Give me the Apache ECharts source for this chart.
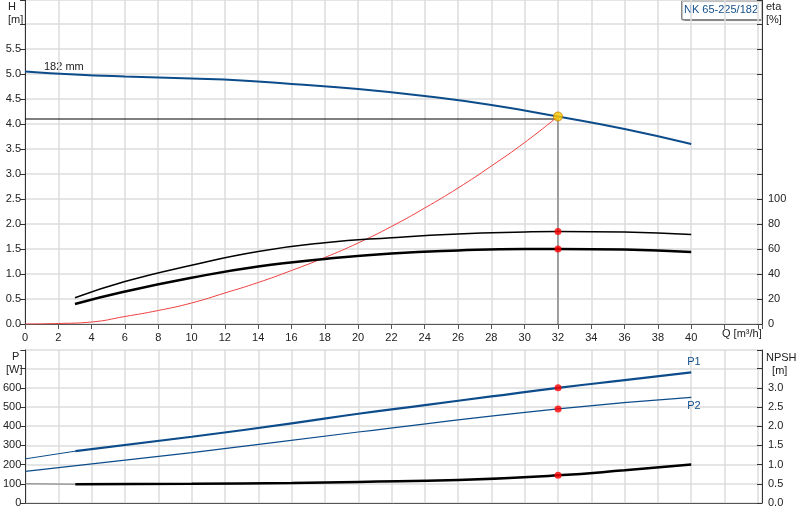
<!DOCTYPE html>
<html><head><meta charset="utf-8">
<script src="https://cdn.jsdelivr.net/npm/echarts@6/dist/echarts.min.js"></script>
<style>html,body{margin:0;padding:0;background:#fff}#c{width:800px;height:520px}</style>
</head><body><div id="c"></div>
<script>
const hQ   = [0,3,6,10,13,16,20,24,28,32,36,40];
const hVal = [5.05,4.99,4.95,4.91,4.87,4.8,4.7,4.56,4.38,4.15,3.9,3.6];
const sysQ = [0,2,4,6,8,10,12,14,16,18,20,22,24,26,28,30,32];
const sysH = [0,0.01,0.04,0.15,0.27,0.42,0.62,0.83,1.07,1.33,1.62,1.95,2.32,2.72,3.16,3.63,4.15];
const effQ = [3,6,10,14,18,22,26,30,32,36,40];
const etaUpper = [21,34,47,58,65,69,72,73.6,74,73.6,71.6];
const etaLower = [16,26,37,46,52,56.4,58.8,60,60,59.6,57.6];
const pQ  = [3,10,16,20,24,28,32,36,40];
const p1  = [270,345,415,465,510,555,600,640,680];
const p1Ext = [[0,230],[3,270]];
const p2Q = [0,10,20,32,40];
const p2  = [165,262,370,490,550];
const npQ = [3,10,16,20,26,32,36,40];
const npsh = [0.49,0.5,0.52,0.55,0.6,0.72,0.85,1.0];
const npExt = [[0,0.5],[3,0.49]];
const dutyQ = 32, dutyH = 4.1;

const zip=(a,b)=>a.map((x,i)=>[x,b[i]]);
const blue='#0d4c8b';
const gridLine={show:true,lineStyle:{color:'#dcdcdc',width:1.5}};
const font={fontFamily:'Arial, Liberation Sans',fontSize:11,color:'#222'};
const dot={color:'#ff0000',borderWidth:0};
const chart=echarts.init(document.getElementById('c'));
chart.setOption({
 animation:false,
 grid:[{left:25,right:38,top:0,height:324},{left:25,right:38,top:350,height:153}],
 xAxis:[
  {gridIndex:0,type:'value',min:0,max:44.25,interval:2,splitLine:gridLine,
   axisLine:{lineStyle:{color:'#555'}},axisTick:{show:true,lineStyle:{color:'#555'}},
   axisLabel:{...font,formatter:v=>v<=40?v:''}},
  {gridIndex:1,type:'value',min:0,max:44.25,interval:2,splitLine:gridLine,
   axisLine:{lineStyle:{color:'#555'}},axisTick:{show:false},axisLabel:{show:false}}
 ],
 yAxis:[
  {gridIndex:0,type:'value',min:0,max:6.48,interval:0.5,splitLine:gridLine,
   axisLine:{show:true,lineStyle:{color:'#333'}},axisTick:{show:true},
   axisLabel:{...font,margin:4,formatter:v=>v<=5.5?v.toFixed(1):''}},
  {gridIndex:0,type:'value',position:'right',min:0,max:259.2,interval:20,splitLine:{show:false},
   axisLine:{show:true,lineStyle:{color:'#333'}},axisTick:{show:true,inside:true},
   axisLabel:{...font,margin:6,formatter:v=>v<=100?v:''}},
  {gridIndex:1,type:'value',min:0,max:797,interval:100,splitLine:gridLine,
   axisLine:{show:true,lineStyle:{color:'#333'}},axisTick:{show:true},
   axisLabel:{...font,margin:4,formatter:v=>v<=600?v:''}},
  {gridIndex:1,type:'value',position:'right',min:0,max:3.985,interval:0.5,splitLine:{show:false},
   axisLine:{show:true,lineStyle:{color:'#333'}},axisTick:{show:true,inside:true},
   axisLabel:{...font,margin:6,formatter:v=>v<=3.0?v.toFixed(1):''}}
 ],
 series:[
  {type:'line',xAxisIndex:0,yAxisIndex:0,data:zip(hQ,hVal),smooth:true,symbol:'none',lineStyle:{color:blue,width:2}},
  {type:'line',xAxisIndex:0,yAxisIndex:0,data:[[0,dutyH],[dutyQ,dutyH]],symbol:'none',lineStyle:{color:'#000',width:1}},
  {type:'line',xAxisIndex:0,yAxisIndex:0,data:[[dutyQ,0],[dutyQ,4.15]],symbol:'none',lineStyle:{color:'#888',width:1.5}},
  {type:'line',xAxisIndex:0,yAxisIndex:0,data:zip(sysQ,sysH),smooth:true,symbol:'none',lineStyle:{color:'#f04040',width:1}},
  {type:'line',xAxisIndex:0,yAxisIndex:1,data:zip(effQ,etaUpper),smooth:true,symbol:'none',lineStyle:{color:'#000',width:1.5}},
  {type:'line',xAxisIndex:0,yAxisIndex:1,data:zip(effQ,etaLower),smooth:true,symbol:'none',lineStyle:{color:'#000',width:2.5}},
  {type:'scatter',xAxisIndex:0,yAxisIndex:1,data:[[32,74],[32,60]],symbolSize:7,itemStyle:dot,z:5},
  {type:'scatter',xAxisIndex:0,yAxisIndex:0,data:[[32,4.15]],symbolSize:9,itemStyle:{color:'#ffcc00',borderColor:'#c08000',borderWidth:1},z:5},
  {type:'line',xAxisIndex:1,yAxisIndex:2,data:p1Ext,symbol:'none',lineStyle:{color:blue,width:1}},
  {type:'line',xAxisIndex:1,yAxisIndex:2,data:zip(pQ,p1),smooth:true,symbol:'none',lineStyle:{color:blue,width:2.2},
   endLabel:{show:true,formatter:'P1',color:blue,fontSize:11,offset:[-12,-10]}},
  {type:'line',xAxisIndex:1,yAxisIndex:2,data:zip(p2Q,p2),smooth:true,symbol:'none',lineStyle:{color:blue,width:1.2},
   endLabel:{show:true,formatter:'P2',color:blue,fontSize:11,offset:[-12,9]}},
  {type:'line',xAxisIndex:1,yAxisIndex:3,data:npExt,symbol:'none',lineStyle:{color:'#777',width:1}},
  {type:'line',xAxisIndex:1,yAxisIndex:3,data:zip(npQ,npsh),smooth:true,symbol:'none',lineStyle:{color:'#000',width:2.5}},
  {type:'scatter',xAxisIndex:1,yAxisIndex:2,data:[[32,600],[32,490]],symbolSize:7,itemStyle:dot,z:5},
  {type:'scatter',xAxisIndex:1,yAxisIndex:3,data:[[32,0.72]],symbolSize:7,itemStyle:dot,z:5}
 ],
 graphic:[
  {type:'text',left:8,top:0,style:{text:'H\n[m]',font:'11px Arial',fill:'#222',align:'center',lineHeight:13}},
  {type:'text',left:766,top:0,style:{text:'eta\n[%]',font:'11px Arial',fill:'#222',lineHeight:13}},
  {type:'text',left:6,top:350,style:{text:'  P\n[W]',font:'11px Arial',fill:'#222',lineHeight:13}},
  {type:'text',left:766,top:351,style:{text:'NPSH\n  [m]',font:'11px Arial',fill:'#222',lineHeight:13}},
  {type:'text',left:44,top:61,style:{text:'182 mm',font:'11px Arial',fill:'#222'}},
  {type:'text',left:722,top:328,style:{text:'Q [m³/h]',font:'11px Arial',fill:'#222'}},
  {type:'rect',left:681,top:0,shape:{width:80,height:19},style:{fill:'#fff',stroke:'#888',lineWidth:1,shadowColor:'rgba(0,0,0,0.3)',shadowOffsetX:1,shadowOffsetY:1,shadowBlur:1}},
  {type:'text',left:684,top:4,style:{text:'NK 65-225/182',font:'11px Arial',fill:'#134f8c'}}
 ]
});
</script></body></html>
